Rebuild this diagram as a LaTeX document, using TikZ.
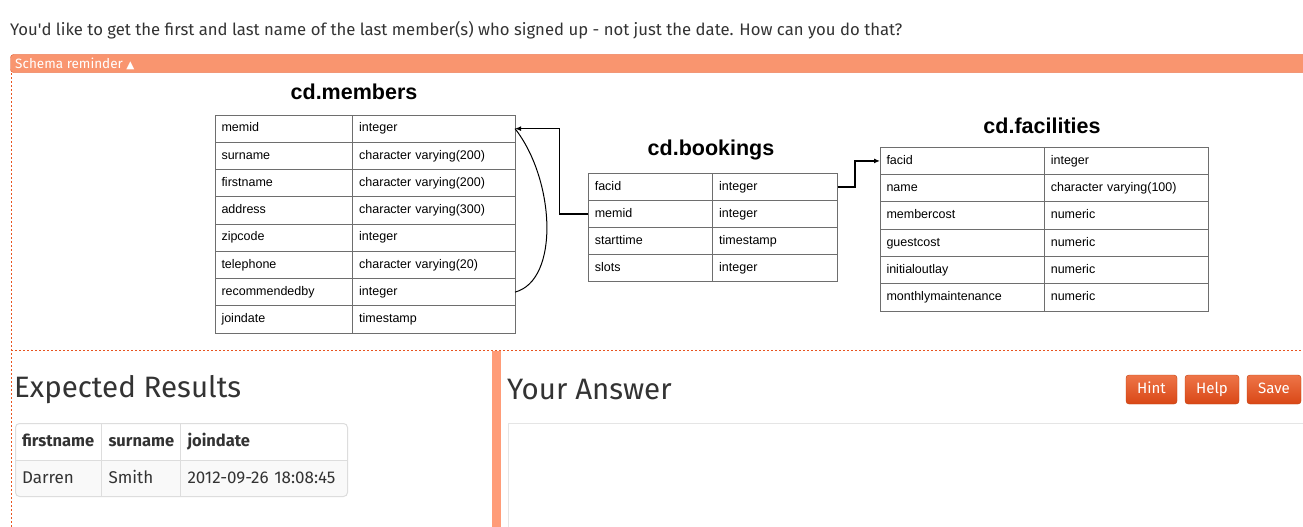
\documentclass[tikz,border=0pt]{standalone}
\usepackage{fontspec}
\setmainfont{Fira Sans}
\newfontfamily\tabfont{Liberation Sans}
\newfontfamily\symfont{DejaVu Sans}
\usetikzlibrary{arrows.meta}
\definecolor{txt}{HTML}{333333}
\definecolor{barfill}{HTML}{F9956F}
\definecolor{barline}{HTML}{E2592B}
\definecolor{dashc}{HTML}{E8541F}
\definecolor{thickbar}{HTML}{FF9C78}
\definecolor{tline}{HTML}{6E6E6E}
\definecolor{btntop}{HTML}{EE7548}
\definecolor{btnbot}{HTML}{D94716}
\definecolor{btnline}{HTML}{C2400F}
\definecolor{rline}{HTML}{DDDDDD}
\definecolor{rowbg}{HTML}{F9F9F9}
\definecolor{boxline}{HTML}{E5E5E5}
\begin{document}
\begin{tikzpicture}[x=1pt,y=-1pt,
  cell/.style={draw=tline, line width=0.9pt, anchor=north west, outer sep=0pt,
    inner xsep=6.5pt, inner ysep=0pt, align=left,
    font=\tabfont\fontsize{12.5}{14}\selectfont, text height=9pt, text depth=2.5pt},
  ttl/.style={font=\tabfont\bfseries\fontsize{21.5}{25}\selectfont, inner sep=0pt},
  conn/.style={line width=1.6pt, -{Latex[length=6pt,width=5pt]}},
  dashl/.style={dashc, line width=1pt, dash pattern=on 2pt off 2pt},
  rcell/.style={anchor=north west, outer sep=0pt, inner xsep=7pt, inner ysep=0pt,
    align=left, minimum height=37pt, text=txt, text height=12pt, text depth=2pt},
  hfont/.style={font=\bfseries\fontsize{16.5}{19}\selectfont},
  bfont/.style={font=\fontsize{17}{20}\selectfont},
  heading/.style={anchor=west, text=txt, inner sep=0pt, font=\fontsize{29.5}{34}\selectfont},
  btn/.style={rounded corners=3pt, draw=btnline, top color=btntop, bottom color=btnbot,
    text=white, font=\fontsize{15}{17}\selectfont, minimum height=29pt, inner sep=0pt,
    text height=10.5pt, text depth=3pt}
]
\useasboundingbox (0,0) rectangle (1303,527);
\clip (0,0) rectangle (1303,527);
\fill[white] (0,0) rectangle (1303,527);

% question
\node[anchor=west, text=txt, inner sep=0pt, font=\fontsize{16.7}{19}\selectfont] (q) at (10,30)
  {You\textquotesingle d like to get the first and last name of the last member(s) who signed up - not just the date. How can you do that?};

% schema bar
\draw[barline, fill=barfill, rounded corners=3pt] (10.5,54.5) rectangle (1320,72.5);
\node[anchor=west, text=white, inner sep=0pt, font=\fontsize{13.5}{15}\selectfont] (sr) at (15,64)
  {Schema reminder {\symfont\fontsize{10.5}{12}\selectfont ▲}};

% dashed frame
\draw[dashl] (11,73) -- (11,527);
\draw[dashl] (11,350) -- (1303,350);

% titles
\node[ttl] (tm) at (354,92) {cd.members};
\node[ttl] (tb) at (711,150) {cd.bookings};
\node[ttl] (tf) at (1042,126) {cd.facilities};

% members
\foreach \a/\b [count=\i] in {memid/integer, surname/character varying(200),
  firstname/character varying(200), address/character varying(300), zipcode/integer,
  telephone/character varying(20), recommendedby/integer, joindate/timestamp}{
  \node[cell, text width=124.7pt, minimum height=27.25pt] (m\i) at (215,{115+(\i-1)*27.25}) {\a};
  \node[cell, text width=149.3pt, minimum height=27.25pt] (mt\i) at (352.7,{115+(\i-1)*27.25}) {\b};
}
% bookings
\foreach \a/\b [count=\i] in {facid/integer, memid/integer, starttime/timestamp, slots/integer}{
  \node[cell, text width=111.4pt, minimum height=27.1pt] (b\i) at (588.3,{173.3+(\i-1)*27.1}) {\a};
  \node[cell, text width=112pt, minimum height=27.1pt] (bt\i) at (712.7,{173.3+(\i-1)*27.1}) {\b};
}
% facilities
\foreach \a/\b [count=\i] in {facid/integer, name/character varying(100), membercost/numeric,
  guestcost/numeric, initialoutlay/numeric, monthlymaintenance/numeric}{
  \node[cell, text width=151.3pt, minimum height=27.3pt] (f\i) at (880,{147.3+(\i-1)*27.3}) {\a};
  \node[cell, text width=151pt, minimum height=27.3pt] (ft\i) at (1044.3,{147.3+(\i-1)*27.3}) {\b};
}

% connectors
\draw[conn] (b2.west) -- ++(-29,0) |- (mt1.east);
\draw[line width=1pt] (mt7.east) .. controls +(45,-12) and +(40,51) .. (mt1.east);
\draw[conn] (bt1.east) -- ++(17,0) |- (f1.west);

% lower part
\fill[thickbar] (492,351) rectangle (501,527);
\node[heading] (er) at (14,390) {Expected Results};
\node[heading] (ya) at (507,390) {Your Answer};

% result table
\fill[rowbg, rounded corners=4pt] (15.5,460) rectangle (347.5,496.5);
\fill[rowbg] (15.5,460) rectangle (347.5,470);
\node[rcell, hfont, text width=72.5pt] (h1) at (15,423) {firstname};
\node[rcell, hfont, text width=65pt] (h2) at (101.5,423) {surname};
\node[rcell, hfont, text width=153.5pt] (h3) at (180.5,423) {joindate};
\node[rcell, bfont, text width=72.5pt] (d1) at (15,460) {Darren};
\node[rcell, bfont, text width=65pt] (d2) at (101.5,460) {Smith};
\node[rcell, bfont, text width=153.5pt] (d3) at (180.5,460) {2012-09-26 18:08:45};
\draw[rline, line width=1pt] (h1.south west) -- (h3.south east);
\draw[rline, line width=1pt] (h1.north east) -- (d1.south east);
\draw[rline, line width=1pt] (h2.north east) -- (d2.south east);
\draw[rline, line width=1pt, rounded corners=4pt] (15.5,423.5) rectangle (347.5,496.5);

% buttons
\node[btn, minimum width=51pt] (hint) at (1151.5,389.5) {Hint};
\node[btn, minimum width=54pt] (help) at (1212,389.5) {Help};
\node[btn, minimum width=54pt] (save) at (1274,389.5) {Save};

% answer box
\draw[boxline, line width=1pt] (1320,423.5) -- (508.5,423.5) -- (508.5,540);
\end{tikzpicture}
\end{document}
